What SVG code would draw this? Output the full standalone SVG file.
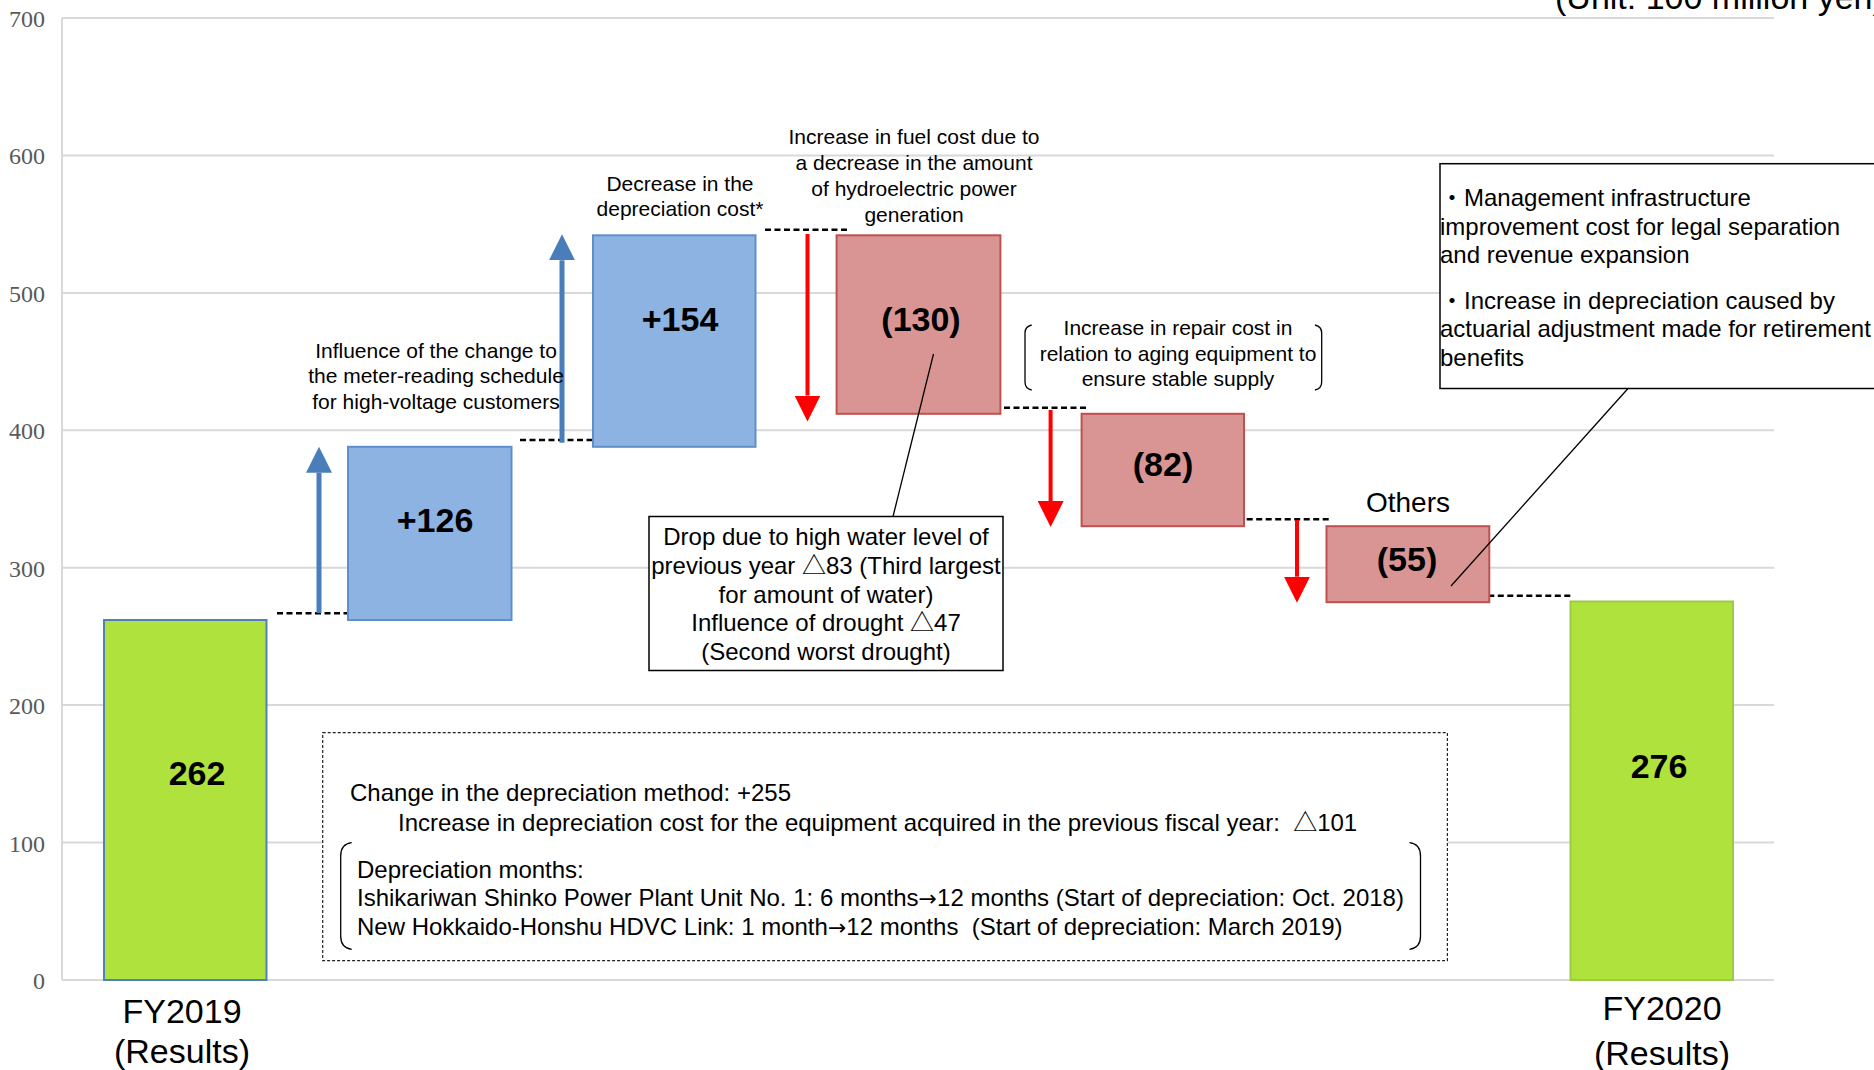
<svg xmlns="http://www.w3.org/2000/svg" width="1874" height="1070" viewBox="0 0 1874 1070">
  <style>
    .grid { stroke: #D9D9D9; stroke-width: 2; fill: none; }
    .tick { font-family: "Liberation Serif", "Times New Roman", serif; font-size: 24px; fill: #595959; text-anchor: end; }
    .sans { font-family: "Liberation Sans", Arial, "Noto Sans CJK JP", sans-serif; fill: #000; }
    .arw { font-family: "DejaVu Sans", sans-serif; font-size: 22px; }
    .note { font-size: 21px; text-anchor: middle; }
    .note24 { font-size: 24px; }
    .mid { text-anchor: middle; }
    .val { font-size: 34px; font-weight: bold; text-anchor: middle; }
    .cat { font-size: 34px; text-anchor: middle; }
    .total { fill: #B0E23E; stroke-width: 2; }
    .up { fill: #8DB3E2; stroke: #5F8FCB; stroke-width: 2; }
    .down { fill: #D99594; stroke: #C0504D; stroke-width: 2; }
    .level { stroke: #000; stroke-width: 2.5; stroke-dasharray: 6 3.5; fill: none; }
    .shaft-up { stroke: #4A7EBB; stroke-width: 5; fill: none; }
    .shaft-down { stroke: #FF0000; stroke-width: 4; fill: none; }
    .thin { stroke: #000; stroke-width: 1.3; fill: none; }
    .box { fill: #fff; stroke: #000; stroke-width: 1.5; }
    .dashbox { fill: #fff; stroke: #222; stroke-width: 1.2; stroke-dasharray: 3 2; }
  </style>
  <defs>
    <marker id="headBlue" markerUnits="userSpaceOnUse" markerWidth="26" markerHeight="26" refX="0" refY="13" orient="auto" viewBox="0 0 26 26">
      <path d="M0,0 L26,13 L0,26 Z" fill="#4A7EBB"/>
    </marker>
    <marker id="headRed" markerUnits="userSpaceOnUse" markerWidth="26" markerHeight="26" refX="0" refY="13" orient="auto" viewBox="0 0 26 26">
      <path d="M0,0 L26,13 L0,26 Z" fill="#FF0000"/>
    </marker>
  </defs>

  <rect width="1874" height="1070" fill="#fff"/>

  <!-- value axis and gridlines -->
  <g id="axis">
    <line class="grid" x1="62" y1="18" x2="1774" y2="18"/>
    <line class="grid" x1="62" y1="155.4" x2="1774" y2="155.4"/>
    <line class="grid" x1="62" y1="292.9" x2="1774" y2="292.9"/>
    <line class="grid" x1="62" y1="430.3" x2="1774" y2="430.3"/>
    <line class="grid" x1="62" y1="567.7" x2="1774" y2="567.7"/>
    <line class="grid" x1="62" y1="705.1" x2="1774" y2="705.1"/>
    <line class="grid" x1="62" y1="842.6" x2="1774" y2="842.6"/>
    <line class="grid" x1="62" y1="980" x2="1774" y2="980"/>
    <line class="grid" x1="62" y1="18" x2="62" y2="980"/>
    <text class="tick" x="45" y="27">700</text>
    <text class="tick" x="45" y="164.4">600</text>
    <text class="tick" x="45" y="301.9">500</text>
    <text class="tick" x="45" y="439.3">400</text>
    <text class="tick" x="45" y="576.7">300</text>
    <text class="tick" x="45" y="714.1">200</text>
    <text class="tick" x="45" y="851.6">100</text>
    <text class="tick" x="45" y="989">0</text>
  </g>

  <text id="unit" class="sans" x="1555" y="9" font-size="34">(Unit: 100 million yen)</text>

  <!-- bottom note on depreciation method -->
  <g id="note-depreciation">
    <rect class="dashbox" x="322.7" y="732.7" width="1124.7" height="228"/>
    <text class="sans note24" x="350" y="801">Change in the depreciation method: +255</text>
    <text class="sans note24" x="398" y="831" xml:space="preserve">Increase in depreciation cost for the equipment acquired in the previous fiscal year:  △101</text>
    <path class="thin" d="M351.7,842.7 Q340.7,844 340.7,856 L340.7,936 Q340.7,948 351.7,949.3"/>
    <path class="thin" d="M1409.5,842.7 Q1420.5,844 1420.5,856 L1420.5,936 Q1420.5,948 1409.5,949.3"/>
    <text class="sans note24" x="357" y="877.5">Depreciation months:</text>
    <text class="sans note24" x="357" y="906">Ishikariwan Shinko Power Plant Unit No. 1: 6 months<tspan class="arw">→</tspan>12 months (Start of depreciation: Oct. 2018)</text>
    <text class="sans note24" x="357" y="935" xml:space="preserve">New Hokkaido-Honshu HDVC Link: 1 month<tspan class="arw">→</tspan>12 months  (Start of depreciation: March 2019)</text>
  </g>

  <!-- connectors: level lines, change arrows, callout leaders -->
  <g id="connectors">
    <line class="level" x1="277" y1="613.3" x2="360" y2="613.3"/>
    <line class="level" x1="520" y1="440" x2="604" y2="440"/>
    <line class="level" x1="765" y1="229.8" x2="848.6" y2="229.8"/>
    <line class="level" x1="1004" y1="407.8" x2="1088" y2="407.8"/>
    <line class="level" x1="1246.7" y1="519.3" x2="1330" y2="519.3"/>
    <line class="level" x1="1488.3" y1="595.7" x2="1571.7" y2="595.7"/>

    <line class="shaft-up" x1="319" y1="613" x2="319" y2="472.7" marker-end="url(#headBlue)"/>
    <line class="shaft-up" x1="562" y1="442.7" x2="562" y2="260.3" marker-end="url(#headBlue)"/>

    <line class="shaft-down" x1="807.5" y1="234" x2="807.5" y2="395.5" marker-end="url(#headRed)"/>
    <line class="shaft-down" x1="1050.6" y1="410" x2="1050.6" y2="501" marker-end="url(#headRed)"/>
    <line class="shaft-down" x1="1297" y1="520" x2="1297" y2="576.7" marker-end="url(#headRed)"/>
  </g>

  <!-- bars -->
  <g id="bar-fy2019">
    <rect class="total" x="104" y="620" width="162.5" height="360" stroke="#4F81BD"/>
    <text class="sans val" x="197" y="785">262</text>
    <text class="sans cat" x="182" y="1023">FY2019</text>
    <text class="sans cat" x="182" y="1063">(Results)</text>
  </g>

  <g id="bar-meter-reading">
    <rect class="up" x="348" y="446.8" width="163.5" height="173.2"/>
    <text class="sans val" x="435" y="531.5">+126</text>
    <text class="sans note" x="436" y="357.5">Influence of the change to</text>
    <text class="sans note" x="436" y="383">the meter-reading schedule</text>
    <text class="sans note" x="436" y="409">for high-voltage customers</text>
  </g>

  <g id="bar-depreciation">
    <rect class="up" x="593" y="235.3" width="162.5" height="211.5"/>
    <text class="sans val" x="680" y="331">+154</text>
    <text class="sans note" x="680" y="190.5">Decrease in the</text>
    <text class="sans note" x="680" y="215.5">depreciation cost*</text>
  </g>

  <g id="bar-fuel">
    <rect class="down" x="836.6" y="235.3" width="163.8" height="178.5"/>
    <text class="sans val" x="921" y="331">(130)</text>
    <text class="sans note" x="914" y="144">Increase in fuel cost due to</text>
    <text class="sans note" x="914" y="170">a decrease in the amount</text>
    <text class="sans note" x="914" y="195.5">of hydroelectric power</text>
    <text class="sans note" x="914" y="221.5">generation</text>
  </g>

  <g id="callout-fuel">
    <line class="thin" x1="933.5" y1="354" x2="893" y2="516.5"/>
    <rect class="box" x="649" y="516.5" width="354" height="154"/>
    <text class="sans note24 mid" x="826" y="545">Drop due to high water level of</text>
    <text class="sans note24 mid" x="826" y="573.8">previous year △83 (Third largest</text>
    <text class="sans note24 mid" x="826" y="602.6">for amount of water)</text>
    <text class="sans note24 mid" x="826" y="631.4">Influence of drought △47</text>
    <text class="sans note24 mid" x="826" y="660.2">(Second worst drought)</text>
  </g>

  <g id="bar-repair">
    <rect class="down" x="1081.6" y="413.8" width="162.4" height="112.4"/>
    <text class="sans val" x="1163" y="476">(82)</text>
    <path class="thin" d="M1031.7,325 Q1025,326.5 1025,333 L1025,382 Q1025,388.5 1031.7,390"/>
    <path class="thin" d="M1315,325 Q1321.7,326.5 1321.7,333 L1321.7,382 Q1321.7,388.5 1315,390"/>
    <text class="sans note" x="1178" y="335">Increase in repair cost in</text>
    <text class="sans note" x="1178" y="360.5">relation to aging equipment to</text>
    <text class="sans note" x="1178" y="386">ensure stable supply</text>
  </g>

  <g id="bar-others">
    <rect class="down" x="1326.5" y="526.2" width="162.8" height="76"/>
    <text class="sans val" x="1407" y="571">(55)</text>
    <text class="sans mid" x="1408" y="512" font-size="28">Others</text>
  </g>

  <g id="callout-others">
    <line class="thin" x1="1628" y1="388.5" x2="1451" y2="586"/>
    <rect class="box" x="1440" y="163.7" width="440" height="224.8"/>
    <text class="sans note24" x="1440" y="205.5">・Management infrastructure</text>
    <text class="sans note24" x="1440" y="234.5">improvement cost for legal separation</text>
    <text class="sans note24" x="1440" y="263">and revenue expansion</text>
    <text class="sans note24" x="1440" y="308.5">・Increase in depreciation caused by</text>
    <text class="sans note24" x="1440" y="337">actuarial adjustment made for retirement</text>
    <text class="sans note24" x="1440" y="366">benefits</text>
  </g>

  <g id="bar-fy2020">
    <rect class="total" x="1570.5" y="601.5" width="162.5" height="378.5" stroke="#9BCB45"/>
    <text class="sans val" x="1659" y="778">276</text>
    <text class="sans cat" x="1662" y="1019.5">FY2020</text>
    <text class="sans cat" x="1662" y="1065">(Results)</text>
  </g>
</svg>
